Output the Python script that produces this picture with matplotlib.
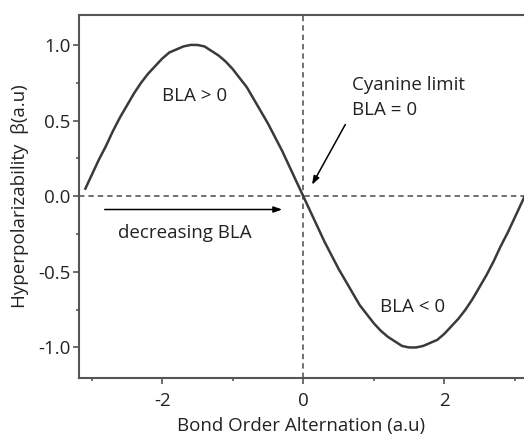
import matplotlib
matplotlib.use('Agg')
import matplotlib.pyplot as plt

# beta vs bond order alternation
bla = [-3.09, -3.0, -2.9, -2.8, -2.7, -2.6, -2.5, -2.4, -2.3, -2.2, -2.1, -2.0,
       -1.9, -1.8, -1.7, -1.6, -1.5, -1.4, -1.3, -1.2, -1.1, -1.0, -0.9, -0.8,
       -0.7, -0.6, -0.5, -0.4, -0.3, -0.2, -0.1, 0.0, 0.1, 0.2, 0.3, 0.4, 0.5,
       0.6, 0.7, 0.8, 0.9, 1.0, 1.1, 1.2, 1.3, 1.4, 1.5, 1.6, 1.7, 1.8, 1.9,
       2.0, 2.1, 2.2, 2.3, 2.4, 2.5, 2.6, 2.7, 2.8, 2.9, 3.0, 3.1, 3.14]
beta = [0.05, 0.14, 0.24, 0.33, 0.43, 0.52, 0.60, 0.68, 0.75, 0.81, 0.86, 0.91,
        0.95, 0.97, 0.99, 1.00, 1.00, 0.99, 0.96, 0.93, 0.89, 0.84, 0.78, 0.72,
        0.64, 0.56, 0.48, 0.39, 0.30, 0.20, 0.10, 0.0, -0.10, -0.20, -0.30,
        -0.39, -0.48, -0.56, -0.64, -0.72, -0.78, -0.84, -0.89, -0.93, -0.96,
        -0.99, -1.00, -1.00, -0.99, -0.97, -0.95, -0.91, -0.86, -0.81, -0.75,
        -0.68, -0.60, -0.52, -0.43, -0.33, -0.24, -0.14, -0.04, 0.0]

xticks = [-2, 0, 2]
yticks = [1.0, 0.5, 0.0, -0.5, -1.0]
ytick_labels = ['1.0', '0.5', '0.0', '-0.5', '-1.0']

plt.rcParams['font.family'] = ['Open Sans', 'DejaVu Sans']
grey = '#555555'
ink = '#222222'

fig = plt.figure(figsize=(5.24, 4.36), dpi=100)
ax = fig.add_axes([0.1508, 0.1337, 0.8492, 0.8326])

ax.axhline(0, color='#666666', lw=1.3, ls=(0, (3, 2.2)), zorder=1)
ax.axvline(0, color='#666666', lw=1.3, ls=(0, (3, 2.2)), zorder=1)
ax.plot(bla, beta, color='#3a3a3a', lw=1.8, zorder=2)

ax.set_xlim(-3.18, 3.13)
ax.set_ylim(-1.2, 1.2)
ax.set_xticks(xticks)
ax.set_xticklabels([str(t) for t in xticks])
ax.set_xticks([-3, -1, 1, 3], minor=True)
ax.set_yticks(yticks)
ax.set_yticklabels(ytick_labels)
ax.set_yticks([0.75, 0.25, -0.25, -0.75], minor=True)

ax.spines['right'].set_visible(False)
for s in ['left', 'bottom', 'top']:
    ax.spines[s].set_color(grey)
    ax.spines[s].set_linewidth(1.5)
ax.tick_params(which='major', length=4, width=1.2, color=grey, labelsize=13.5,
               labelcolor=ink, pad=2)
ax.tick_params(axis='x', which='major', pad=6)
ax.tick_params(which='minor', length=2.5, width=1.2, color=grey)

ax.set_xlabel('Bond Order Alternation (a.u)', fontsize=13.5, color=ink, labelpad=5)
ax.set_ylabel('Hyperpolarizability  β(a.u)', fontsize=13.5, color=ink, labelpad=7)

txt = dict(fontsize=13.5, color=ink)
ax.text(-1.54, 0.664, 'BLA > 0', ha='center', va='center', **txt)
ax.text(1.09, -0.733, 'BLA < 0', ha='left', va='center', **txt)
ax.text(0.69, 0.735, 'Cyanine limit', ha='left', va='center', **txt)
ax.text(0.69, 0.57, 'BLA = 0', ha='left', va='center', **txt)
ax.text(-2.63, -0.245, 'decreasing BLA', ha='left', va='center', **txt)

arrow = dict(arrowstyle='-|>,head_length=0.5,head_width=0.18', color='black', lw=1.1)
ax.annotate('', xy=(0.105, 0.06), xytext=(0.615, 0.49), arrowprops=arrow)
ax.annotate('', xy=(-0.26, -0.088), xytext=(-2.855, -0.088), arrowprops=arrow)

fig.savefig('out.png', dpi=100)
